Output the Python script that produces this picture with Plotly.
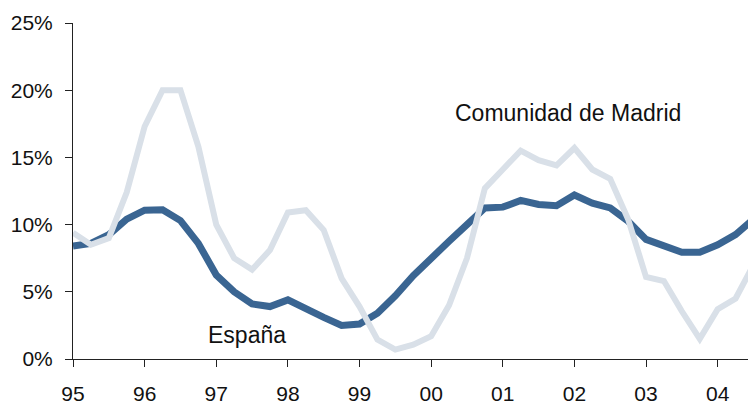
import plotly.graph_objects as go

# Quarterly data, 1995Q1 .. 2004Q3
years_start = 1995
espana = [8.4, 8.6, 9.25, 10.4,
          11.07, 11.1, 10.3, 8.6,
          6.25, 5.0, 4.1, 3.9,
          4.4, 3.7, 3.1, 2.5,
          2.6, 3.4, 4.7, 6.2,
          7.4, 8.76, 10.0, 11.24,
          11.3, 11.8, 11.5, 11.4,
          12.2, 11.6, 11.24, 10.25,
          8.9, 8.4, 7.94, 7.94,
          8.5, 9.26, 10.4]
madrid = [9.4, 8.5, 9.0, 12.4,
          17.3, 20.0, 20.0, 15.8,
          10.0, 7.5, 6.65, 8.1,
          10.9, 11.07, 9.6, 6.0,
          3.9, 1.44, 0.7, 1.07,
          1.7, 4.0, 7.5, 12.7,
          14.1, 15.5, 14.8, 14.4,
          15.7, 14.1, 13.4, 10.4,
          6.1, 5.8, 3.55, 1.5,
          3.7, 4.5, 7.0]
quarters = [years_start + 0.25 * i for i in range(len(espana))]

tick_years = [1995, 1996, 1997, 1998, 1999, 2000, 2001, 2002, 2003, 2004]
tick_labels = ["95", "96", "97", "98", "99", "00", "01", "02", "03", "04"]
y_ticks = [0, 5, 10, 15, 20, 25]
y_tick_labels = ["0%", "5%", "10%", "15%", "20%", "25%"]

FONT = "Liberation Sans, Arial, Helvetica, sans-serif"

fig = go.Figure()
fig.add_trace(go.Scatter(x=quarters, y=espana, mode="lines", name="España",
                         line=dict(color="#3A6592", width=7), showlegend=False))
fig.add_trace(go.Scatter(x=quarters, y=madrid, mode="lines", name="Comunidad de Madrid",
                         line=dict(color="#D9E0E8", width=6), showlegend=False))

fig.add_annotation(x=2001.91, y=18.3, text="Comunidad de Madrid", showarrow=False,
                   font=dict(family=FONT, size=23, color="#111111"), xanchor="center", yanchor="middle")
fig.add_annotation(x=1997.43, y=1.75, text="España", showarrow=False,
                   font=dict(family=FONT, size=23, color="#111111"), xanchor="center", yanchor="middle")

fig.update_layout(
    width=748, height=402,
    margin=dict(l=73, r=0, t=23, b=43, pad=0),
    paper_bgcolor="white", plot_bgcolor="white",
    font=dict(family=FONT, size=21, color="#111111"),
    xaxis=dict(range=[1995, 1995 + 675 / 71.63], tickvals=tick_years, ticktext=tick_labels,
               automargin=False,
               showgrid=False, zeroline=False, showline=True, linecolor="#222222", linewidth=1,
               ticks="outside", ticklen=7, tickcolor="#222222", tickwidth=1,
               ticklabelstandoff=9, tickfont=dict(family=FONT, size=21, color="#111111")),
    yaxis=dict(range=[0, 25], tickvals=y_ticks, ticktext=y_tick_labels,
               automargin=False,
               showgrid=False, zeroline=False, showline=True, linecolor="#222222", linewidth=1,
               ticks="outside", ticklen=7, tickcolor="#222222", tickwidth=1,
               ticklabelstandoff=8, tickfont=dict(family=FONT, size=21, color="#111111")),
)

# remove the default 8px page margin so the figure fills the window exactly
fig.write_html("out.html", config={"displayModeBar": False},
               post_script="document.body.style.margin='0';document.body.style.overflow='hidden';")
